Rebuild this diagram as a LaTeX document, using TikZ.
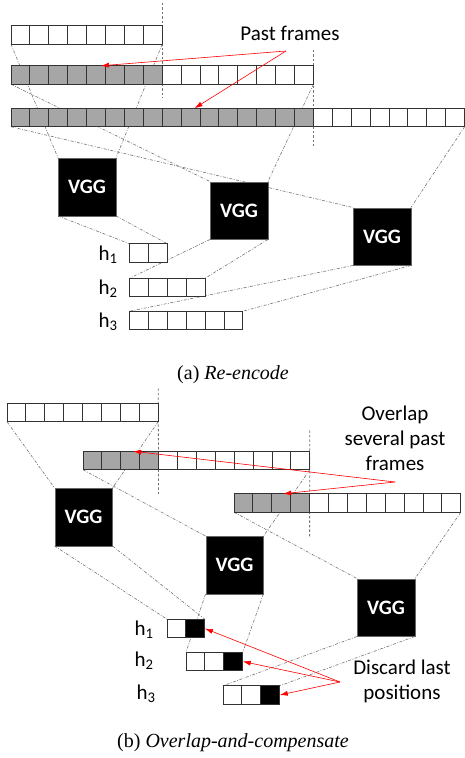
\documentclass[tikz,border=0pt]{standalone}
\usepackage{fontspec}
\setmainfont{Carlito}
\newfontfamily\capfont{Liberation Serif}
\usetikzlibrary{arrows.meta,backgrounds}

\begin{document}
\begin{tikzpicture}[x=1pt,y=-1pt]
\tikzset{% styles for cells, boxes and lines
        cell/.style={rectangle,draw=black!80,line width=1pt,fill=white,minimum width=18.9pt,minimum height=18.5pt,inner sep=0pt,outer sep=0pt},
        gcell/.style={cell,fill=black!35}, bcell/.style={cell,fill=black},
        vgg/.style={rectangle,fill=black,draw=black!60,minimum size=57.5pt,inner sep=0pt,text=white,font=\fontsize{20.5}{20.5}\selectfont\bfseries},
        proj/.style={black!55,line width=0.6pt,dash pattern=on 3pt off 1.5pt on 0.8pt off 1.5pt},
        sep/.style={black!55,line width=0.8pt,dash pattern=on 2.5pt off 2pt},
        arr/.style={red,line width=0.6pt,-{Latex[length=8pt,width=5pt]}},
        lbl/.style={font=\fontsize{21}{25}\selectfont,align=center,inner sep=0pt},
        capt/.style={font=\capfont\fontsize{20}{20}\selectfont},
        }
\useasboundingbox (0,0) rectangle (465,758);
        % (a) frame rows
        \foreach \i in {1,...,8} \node[cell] (a1-\i) at ({11+(\i-0.5)*18.9},35) {};
        \foreach \i in {1,...,8} \node[gcell] (a2-\i) at ({11+(\i-0.5)*18.9},75) {};
        \foreach \i in {9,...,16} \node[cell] (a2-\i) at ({11+(\i-0.5)*18.9},75) {};
        \foreach \i in {1,...,16} \node[gcell] (a3-\i) at ({11+(\i-0.5)*18.9},117.5) {};
        \foreach \i in {17,...,24} \node[cell] (a3-\i) at ({11+(\i-0.5)*18.9},117.5) {};
        % (a) VGG boxes and outputs
        \node[vgg] (va1) at (87,187) {VGG}; \node[vgg] (va2) at (239,210.5) {VGG}; \node[vgg] (va3) at (382,236.5) {VGG};
        \foreach \i in {1,2} \node[cell] (ha1-\i) at ({129.5+(\i-0.5)*18.9},253) {};
        \foreach \i in {1,...,4} \node[cell] (ha2-\i) at ({129.5+(\i-0.5)*18.9},287.5) {};
        \foreach \i in {1,...,6} \node[cell] (ha3-\i) at ({129.5+(\i-0.5)*18.9},320.5) {};
        \node[lbl] (la1) at (108,255) {h\textsubscript{1}}; \node[lbl] (la2) at (108,289) {h\textsubscript{2}};
        \node[lbl] (la3) at (108,322) {h\textsubscript{3}};
        \node[lbl] (past) at (290,33) {Past frames}; \coordinate (pf) at (286,51);
        \node[capt] (capa) at (233,375) {(a) \textit{Re-encode}};
        % (b) frame rows
        \foreach \i in {1,...,8} \node[cell] (b1-\i) at ({7+(\i-0.5)*18.9},412.5) {};
        \foreach \i in {1,...,4} \node[gcell] (b2-\i) at ({83+(\i-0.5)*18.9},460.5) {};
        \foreach \i in {5,...,12} \node[cell] (b2-\i) at ({83+(\i-0.5)*18.9},460.5) {};
        \foreach \i in {1,...,4} \node[gcell] (b3-\i) at ({234+(\i-0.5)*18.9},503) {};
        \foreach \i in {5,...,12} \node[cell] (b3-\i) at ({234+(\i-0.5)*18.9},503) {};
        % (b) VGG boxes and outputs
        \node[vgg] (vb1) at (83.5,517) {VGG}; \node[vgg] (vb2) at (234.5,565) {VGG}; \node[vgg] (vb3) at (386,607.5) {VGG};
        \node[cell] (hb1-1) at (176.5,628.5) {}; \node[bcell] (hb1-2) at (195.4,628.5) {};
        \node[cell] (hb2-1) at (195.5,661.5) {}; \node[cell] (hb2-2) at (214.4,661.5) {}; \node[bcell] (hb2-3) at (233.3,661.5) {};
        \node[cell] (hb3-1) at (232.5,695) {}; \node[cell] (hb3-2) at (251.4,695) {}; \node[bcell] (hb3-3) at (270.3,695) {};
        \node[lbl] (lb1) at (144,630) {h\textsubscript{1}}; \node[lbl] (lb2) at (144,661) {h\textsubscript{2}};
        \node[lbl] (lb3) at (146,694) {h\textsubscript{3}};
        \node[lbl] (ovl) at (395,438) {Overlap\\several past\\frames}; \coordinate (ov) at (395,482);
        \node[lbl] (dsc) at (402,681) {Discard last\\positions}; \coordinate (dc) at (340,682);
        \node[capt] (capb) at (233,743) {(b) \textit{Overlap-and-compensate}};
        %Edges
        \begin{pgfonlayer}{background}
        \draw[proj] (a1-1.south west) -- (va1.north west); \draw[proj] (a1-8.south east) -- (va1.north east);
        \draw[proj] (a2-1.south west) -- (va2.north west); \draw[proj] (a2-16.south east) -- (va2.north east);
        \draw[proj] (a3-1.south west) -- (va3.north west); \draw[proj] (a3-24.south east) -- (va3.north east);
        \draw[proj] (va1.south west) -- (ha1-1.north west); \draw[proj] (va1.south east) -- (ha1-2.north east);
        \draw[proj] (va2.south west) -- (ha2-1.north west); \draw[proj] (va2.south east) -- (ha2-4.north east);
        \draw[proj] (va3.south west) -- (ha3-1.north west); \draw[proj] (va3.south east) -- (ha3-6.north east);
        \draw[sep] ([yshift=23pt]a1-8.north east) -- ([yshift=-14pt]a2-8.south east);
        \draw[sep] ([yshift=16pt]a2-16.north east) -- ([yshift=-19pt]a3-16.south east);
        \draw[proj] (b1-1.south west) -- (vb1.north west); \draw[proj] (b1-8.south east) -- (vb1.north east);
        \draw[proj] (b2-1.south west) -- (vb2.north west); \draw[proj] (b2-12.south east) -- (vb2.north east);
        \draw[proj] (b3-1.south west) -- (vb3.north west); \draw[proj] (b3-12.south east) -- (vb3.north east);
        \draw[proj] (vb1.south west) -- (hb1-1.north west); \draw[proj] (vb1.south east) -- (hb1-2.north east);
        \draw[proj] (vb2.south west) -- (hb2-1.north west); \draw[proj] (vb2.south east) -- (hb2-3.north east);
        \draw[proj] (vb3.south west) -- (hb3-1.north west); \draw[proj] (vb3.south east) -- (hb3-3.north east);
        \draw[sep] ([yshift=15pt]b1-8.north east) -- ([yshift=-24pt]b2-4.south east);
        \draw[sep] ([yshift=21pt]b2-12.north east) -- ([yshift=-24pt]b3-4.south east);
        \end{pgfonlayer}
        \draw[arr] (pf) -- ([xshift=5pt]a2-5.north); \draw[arr] (pf) -- ([xshift=4pt]a3-10.north);
        \draw[arr] (ov) -- ([xshift=3pt]b2-3.north); \draw[arr] (ov) -- ([xshift=2pt]b3-3.north);
        \draw[arr] (dc) -- (hb1-2.east); \draw[arr] (dc) -- (hb2-3.east); \draw[arr] (dc) -- (hb3-3.east);
\end{tikzpicture}
\end{document}
